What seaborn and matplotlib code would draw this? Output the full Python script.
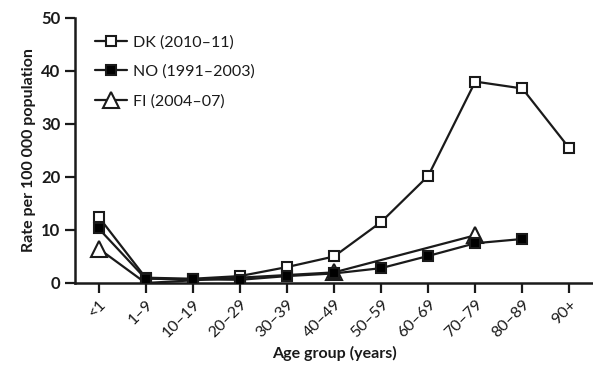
import numpy as np
import pandas as pd
import seaborn as sns
import matplotlib.pyplot as plt

# age groups and rates per 100 000
age_groups = ['<1', '1–9', '10–19', '20–29', '30–39', '40–49', '50–59', '60–69', '70–79', '80–89', '90+']
dk = [12.5, 1.0, 0.8, 1.3, 3.0, 5.0, 11.5, 20.2, 38.0, 36.7, 25.4]
no = [10.3, 0.8, 0.7, 0.6, 1.3, 1.8, 2.8, 5.1, 7.5, 8.3, np.nan]
fi = [6.5, 0.0, np.nan, np.nan, np.nan, 2.0, np.nan, np.nan, 9.0, np.nan, np.nan]

series = [
    ('DK (2010–11)', dk, dict(marker='s', markerfacecolor='white', markersize=7.5, zorder=3)),
    ('NO (1991–2003)', no, dict(marker='s', markerfacecolor='black', markersize=7.5, zorder=4)),
    ('FI (2004–07)', fi, dict(marker='^', markerfacecolor='white', markersize=11, zorder=2)),
]

sns.set_style('ticks')
plt.rcParams['font.family'] = ['Lato', 'DejaVu Sans']

fig = plt.figure(figsize=(5.93, 3.65), dpi=100)
ax = fig.add_axes([0.1265, 0.2247, 0.8735, 0.726])

for name, vals, style in series:
    df = pd.DataFrame({'x': np.arange(len(age_groups)), 'y': vals}).dropna()
    sns.lineplot(data=df, x='x', y='y', ax=ax, color='#1a1a1a', linewidth=1.6,
                 markeredgecolor='#1a1a1a', markeredgewidth=1.5, label=name, **style)

ax.set_xlim(-0.5, 10.5)
ax.set_ylim(0, 50)
ax.set_yticks([0, 10, 20, 30, 40, 50])
ax.set_xticks(np.arange(len(age_groups)))
ax.set_xticklabels(age_groups, rotation=45, ha='right', rotation_mode='anchor', fontsize=11.5)
for t in ax.get_yticklabels():
    t.set_fontweight('bold')
    t.set_fontsize(12)
ax.tick_params(axis='both', width=1.6, length=7, color='#1a1a1a', labelcolor='#1a1a1a')
for s in ['left', 'bottom']:
    ax.spines[s].set_linewidth(1.8)
    ax.spines[s].set_color('#1a1a1a')
sns.despine(ax=ax)

ax.set_xlabel('Age group (years)', fontweight='bold', fontsize=11.5, color='#1a1a1a')
ax.set_ylabel('Rate per 100 000 population', fontweight='bold', fontsize=11.5, color='#1a1a1a')

ax.legend(loc='upper left', bbox_to_anchor=(0.01, 0.99), frameon=False, fontsize=11.5,
          handlelength=2.0, labelspacing=0.95, handletextpad=0.4, labelcolor='#1a1a1a')

plt.savefig('out.png', dpi=100)
